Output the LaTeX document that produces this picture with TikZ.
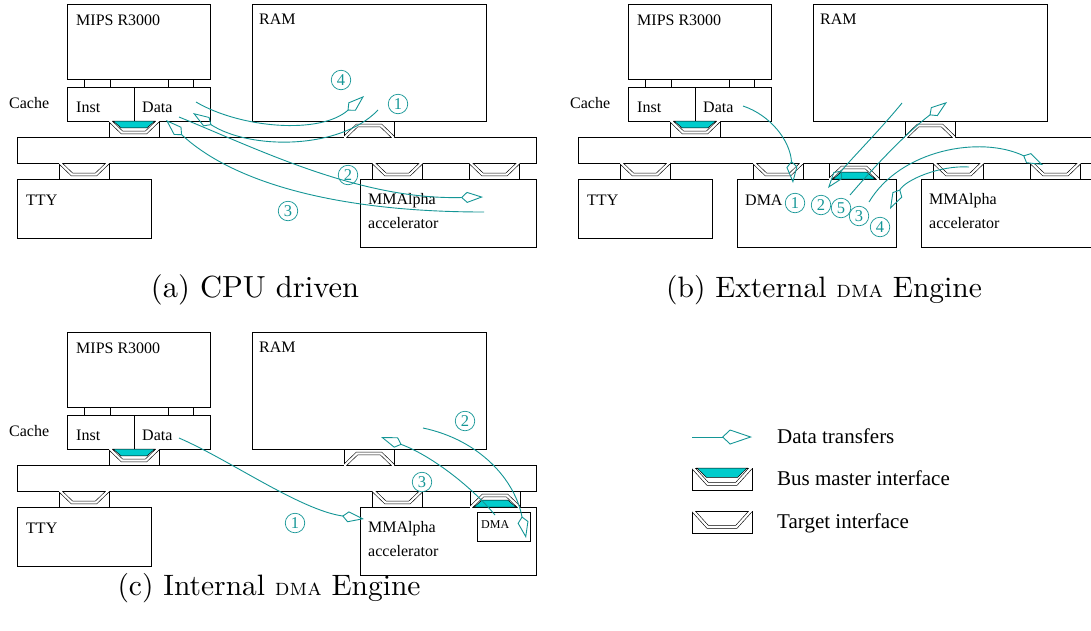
\documentclass[tikz,border=0pt]{standalone}
\usepackage{fontspec}
\usepackage{graphicx}
\newfontfamily\tms{Liberation Serif}
\usetikzlibrary{arrows.meta,fit}
\definecolor{tl}{RGB}{20,150,150}
\definecolor{cy}{RGB}{0,204,204}
\tikzset{
  bx/.style={draw, line width=0.7pt, inner sep=0pt},
  lbl/.style={font={\tms\fontsize{16}{19}\selectfont}, anchor=base west, inner sep=0pt},
  lgd/.style={font={\tms\fontsize{21}{25}\selectfont}, anchor=base west, inner sep=0pt},
  capt/.style={anchor=base, inner sep=0pt},
  dbl/.style={draw, double=white, double distance=2.2pt, line width=0.6pt},
  flow/.style={draw=tl, line width=0.9pt, -{Kite[open, length=22pt, width=11pt, inset=6pt]}},
  numc/.style={circle, draw=tl, text=tl, line width=0.7pt, minimum size=19.5pt, inner sep=0pt, font={\tms\fontsize{16.5}{16.5}\selectfont}},
  tgtif/.pic={
    \draw[line width=0.7pt] (-25,-8) rectangle (25,8);
    \begin{scope}
      \clip (-25,-8) rectangle (25,8);
      \path[dbl] (-26,-10) -- (-12,3.5) -- (12,3.5) -- (26,-10);
    \end{scope}
  },
  mstif/.pic={
    \draw[line width=0.7pt] (-25,-8) rectangle (25,8);
    \begin{scope}
      \clip (-25,-8) rectangle (25,8);
      \path[dbl] (-26,-10) -- (-12,3.5) -- (12,3.5) -- (26,-10);
    \end{scope}
    \filldraw[fill=cy, draw=black, line width=0.5pt] (-21,-8) -- (21,-8) -- (13,-1.2) -- (-13,-1.2) -- cycle;
  }
}
\newcommand{\sysbase}[1]{%
  \node[bx, fit={(67,4) (210,79)}] (#1cpu) {};
  \node[bx, fit={(84,79) (110,87)}] (#1pa) {};
  \node[bx, fit={(168,79) (193,87)}] (#1pb) {};
  \node[bx, fit={(67,87) (134,121)}] (#1inst) {};
  \node[bx, fit={(134,87) (210,121)}] (#1data) {};
  \node[bx, fit={(17,137) (536,163)}] (#1bus) {};
  \node[bx, fit={(252,4) (486,121)}] (#1ram) {};
  \node[bx, fit={(17,179) (151,238)}] (#1tty) {};
  \pic at (134,129) {mstif};
  \pic[yscale=-1] at (369,129) {tgtif};
  \pic at (84,171) {tgtif};
  \node[lbl] (#1tcpu) at (76,25) {MIPS R3000};
  \node[lbl] (#1tram) at (259,24) {RAM};
  \node[lbl] (#1tcache) at (9,108) {Cache};
  \node[lbl] (#1tinst) at (76,112) {Inst};
  \node[lbl] (#1tdata) at (142,112) {Data};
  \node[lbl] (#1ttty) at (26,205) {TTY};
}
\newcommand{\mmabox}[1]{%
  \node[bx, fit={(360,179) (536,247)}] (#1mma) {};
  \node[lbl] (#1tmma) at (368,204) {MMAlpha};
  \node[lbl] (#1tacc) at (368,228) {accelerator};
}
\begin{document}
\begin{tikzpicture}[x=1pt,y=-1pt]
\clip (0,0) rectangle (1091,630);
\fill[white] (0,0) rectangle (1091,630);

% ---------- (a) CPU driven ----------
\sysbase{a}
\mmabox{a}
\pic at (397.5,171) {tgtif};
\pic at (494.5,171) {tgtif};

\coordinate (a4s) at (196,102); \coordinate (a4e) at (364,96);
\coordinate (a1s) at (378,110); \coordinate (a1e) at (193,113);
\coordinate (a2s) at (179,117); \coordinate (a2e) at (483,197);
\coordinate (a3s) at (484,212); \coordinate (a3e) at (166,120);
\draw[flow] (a4s) .. controls (240,128) and (320,135) .. (a4e);
\draw[flow] (a1s) .. controls (340,150) and (250,150) .. (a1e);
\draw[flow] (a2s) .. controls (260,150) and (360,200) .. (a2e);
\draw[flow] (a3s) .. controls (330,212) and (230,180) .. (a3e);
\node[numc] (an4) at (341,80) {4};
\node[numc] (an1) at (398,104) {1};
\node[numc] (an2) at (348,175) {2};
\node[numc] (an3) at (288,211) {3};
\node[capt] (capa) at (255,297) {\scalebox{3.05}{(a) CPU driven}};

% ---------- (b) External DMA ----------
\begin{scope}[shift={(561,0)}]
\sysbase{b}
\mmabox{b}
\node[bx, fit={(176,179) (335,247)}] (bdma) {};
\node[lbl] (btdma) at (184,205) {DMA};
\pic at (217,171) {tgtif};
\pic[yscale=-1] at (293,171) {mstif};
\pic at (397.5,171) {tgtif};
\pic at (494.5,171) {tgtif};
\end{scope}
\coordinate (b1s) at (743,106); \coordinate (b1e) at (793,183);
\coordinate (b2s) at (902,103); \coordinate (b2e) at (828,188);
\coordinate (b5s) at (850,195); \coordinate (b5e) at (947,102);
\coordinate (b3s) at (869,202); \coordinate (b3e) at (1043,165);
\coordinate (b4s) at (969,167); \coordinate (b4e) at (890,209);
\draw[flow] (b1s) .. controls (770,115) and (790,140) .. (b1e);
\draw[flow] (b2s) .. controls (880,130) and (850,160) .. (b2e);
\draw[flow] (b5s) .. controls (880,160) and (910,130) .. (b5e);
\draw[flow] (b3s) .. controls (900,150) and (980,135) .. (b3e);
\draw[flow] (b4s) .. controls (940,165) and (905,180) .. (b4e);
\node[numc] (bn1) at (795,203) {1};
\node[numc] (bn2) at (821,205) {2};
\node[numc] (bn5) at (841,208) {5};
\node[numc] (bn3) at (859,216) {3};
\node[numc] (bn4) at (880,227) {4};
\node[capt] (capb) at (824,297) {\scalebox{2.95}{(b) External {\fontsize{8}{9}\selectfont\textsc{dma}} Engine}};

% ---------- (c) Internal DMA ----------
\begin{scope}[shift={(0,328)}]
\sysbase{c}
\mmabox{c}
\pic at (397.5,171) {tgtif};
\pic[yscale=-1] at (495,171) {mstif};
\node[bx, fit={(477,184) (530,213)}] (cdma) {};
\node[font={\tms\fontsize{12}{14}\selectfont}, anchor=base west, inner sep=0pt] (ctdma) at (481,200) {DMA};
\end{scope}
\coordinate (c1s) at (179,438); \coordinate (c1e) at (364,519);
\coordinate (c3s) at (495,515); \coordinate (c3e) at (381,437);
\coordinate (c2s) at (423,428); \coordinate (c2e) at (526,538);
\draw[flow] (c1s) .. controls (230,460) and (300,510) .. (c1e);
\draw[flow] (c3s) .. controls (470,485) and (430,455) .. (c3e);
\draw[flow] (c2s) .. controls (480,440) and (515,480) .. (c2e);
\node[numc] (cn1) at (295,523) {1};
\node[numc] (cn3) at (422,482) {3};
\node[numc] (cn2) at (465,421) {2};
\node[capt] (capc) at (269,595) {\scalebox{2.95}{(c) Internal {\fontsize{8}{9}\selectfont\textsc{dma}} Engine}};

% ---------- legend ----------
\coordinate (ls) at (692,437); \coordinate (le) at (752,437);
\draw[draw=tl, line width=0.9pt, -{Kite[open, length=30pt, width=15pt, inset=8pt]}] (ls) -- (le);
\node[lgd] (l1) at (777,443) {Data transfers};
\pic[xscale=1.2, yscale=1.375] at (722,479) {mstif};
\node[lgd] (l2) at (777,485) {Bus master interface};
\pic[xscale=1.2, yscale=1.375] at (722,522) {tgtif};
\node[lgd] (l3) at (777,528) {Target interface};
\end{tikzpicture}
\end{document}
